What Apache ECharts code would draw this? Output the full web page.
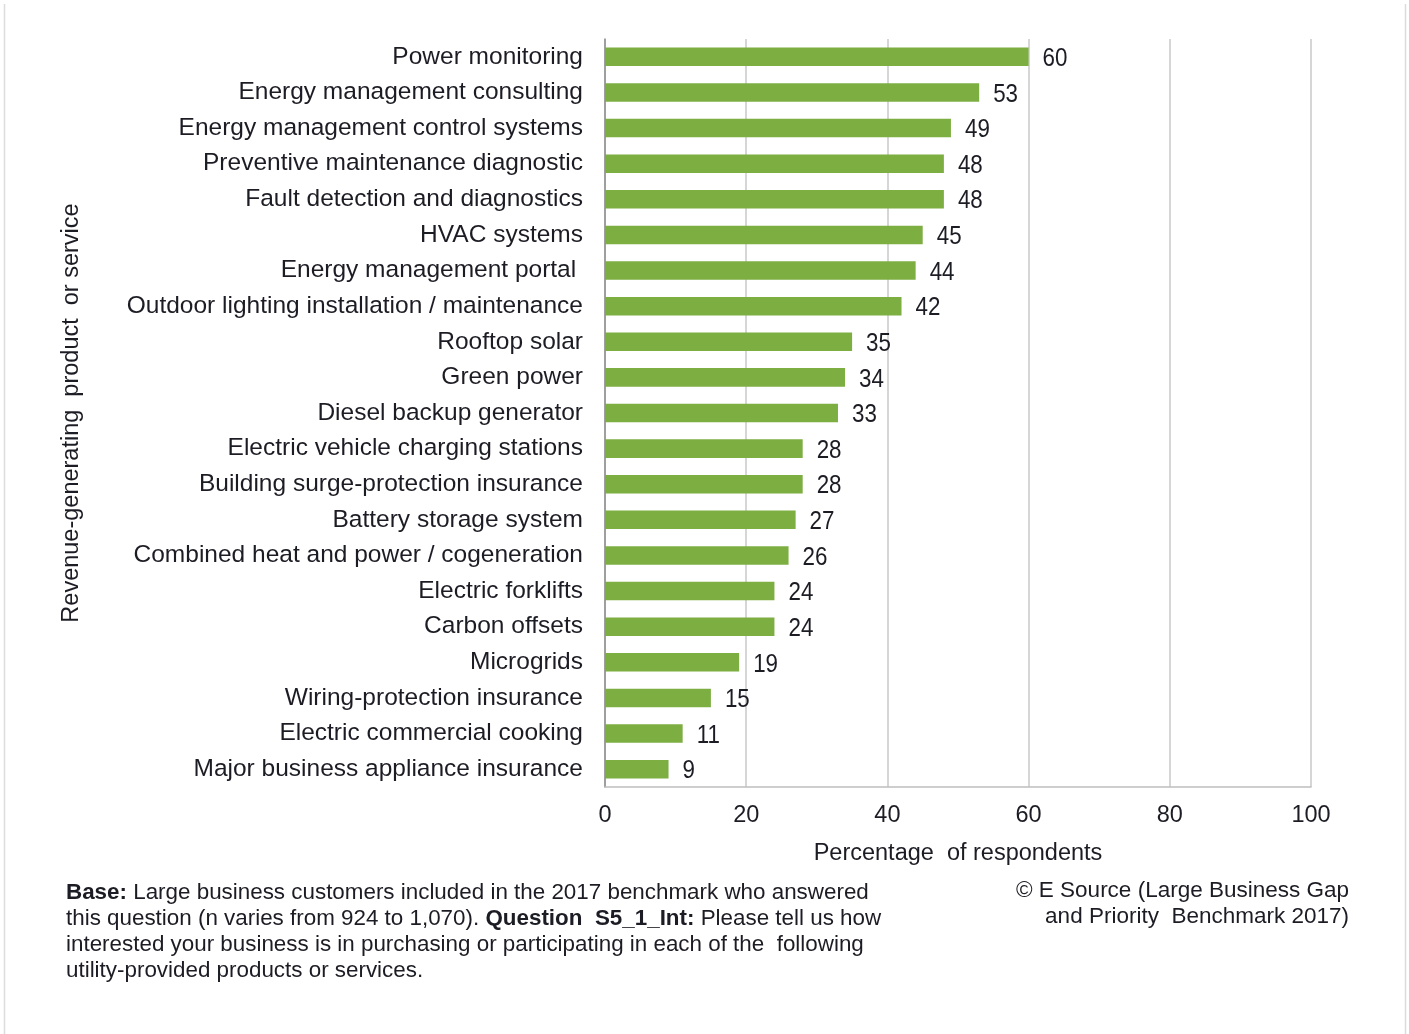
<!DOCTYPE html>
<html>
<head>
<meta charset="utf-8">
<script src="https://cdn.jsdelivr.net/npm/echarts@6/dist/echarts.min.js"></script>
<style>
  html, body { margin: 0; padding: 0; background: #fff; }
  #chart { width: 1409px; height: 1034px; }
</style>
</head>
<body>
<div id="chart"></div>
<script>
// Services, listed top to bottom
const categories = [
  'Power monitoring',
  'Energy management consulting',
  'Energy management control systems',
  'Preventive maintenance diagnostic',
  'Fault detection and diagnostics',
  'HVAC systems',
  'Energy management portal ',
  'Outdoor lighting installation / maintenance',
  'Rooftop solar',
  'Green power',
  'Diesel backup generator',
  'Electric vehicle charging stations',
  'Building surge-protection insurance',
  'Battery storage system',
  'Combined heat and power / cogeneration',
  'Electric forklifts',
  'Carbon offsets',
  'Microgrids',
  'Wiring-protection insurance',
  'Electric commercial cooking',
  'Major business appliance insurance'
];

// Percentage of respondents interested in each service
const values = [60, 53, 49, 48, 48, 45, 44, 42, 35, 34, 33, 28, 28, 27, 26, 24, 24, 19, 15, 11, 9];

const xTicks = [0, 20, 40, 60, 80, 100];

const FONT = '"Liberation Sans", Arial, Helvetica, sans-serif';
const TEXT = '#1c1c24';

const chart = echarts.init(document.getElementById('chart'), null, { renderer: 'canvas' });

// Value labels: condensed digits placed just past each bar end
function renderValueLabel(params, api) {
  const v = api.value(0);
  const idx = api.value(1);
  const p = api.coord([v, idx]);
  return {
    type: 'text',
    x: p[0] + 14,
    y: p[1] + 2,
    scaleX: 0.86,
    style: {
      text: String(v),
      font: '26px ' + FONT,
      fill: TEXT,
      align: 'left',
      verticalAlign: 'middle'
    }
  };
}

chart.setOption({
  backgroundColor: '#ffffff',
  animation: false,
  grid: { left: 605, right: 98, top: 39, bottom: 247, containLabel: false },
  xAxis: {
    type: 'value',
    min: xTicks[0],
    max: xTicks[xTicks.length - 1],
    interval: 20,
    name: 'Percentage  of respondents',
    nameLocation: 'middle',
    nameGap: 55,
    nameTextStyle: { fontFamily: FONT, fontSize: 23.5, color: TEXT },
    axisLine: { show: true, lineStyle: { color: '#bfbfbf', width: 1.5 } },
    axisTick: { show: false },
    axisLabel: { margin: 17, fontFamily: FONT, fontSize: 23.5, color: TEXT },
    splitLine: { show: true, lineStyle: { color: '#c8c8c8', width: 1.5 } }
  },
  yAxis: {
    type: 'category',
    data: categories,
    inverse: true,
    name: 'Revenue-generating  product  or service',
    nameLocation: 'middle',
    nameRotate: 90,
    nameGap: 521,
    nameTextStyle: { fontFamily: FONT, fontSize: 23.5, color: TEXT },
    axisLine: { show: true, lineStyle: { color: '#8c8c8c', width: 1.5 } },
    axisTick: { show: false },
    axisLabel: { margin: 22, fontFamily: FONT, fontSize: 24.5, color: TEXT },
    splitLine: { show: false }
  },
  series: [
    {
      type: 'bar',
      data: values,
      barCategoryGap: '48%',
      itemStyle: { color: '#7cae42' }
    },
    {
      type: 'custom',
      renderItem: renderValueLabel,
      data: values.map((v, i) => [v, i]),
      encode: { x: 0, y: 1 },
      silent: true,
      z: 5
    }
  ],
  graphic: [
    {
      type: 'line',
      shape: { x1: 4.5, y1: 4, x2: 4.5, y2: 1034 },
      style: { stroke: '#dcdcdc', lineWidth: 1.5 },
      silent: true
    },
    {
      type: 'line',
      shape: { x1: 1405.5, y1: 4, x2: 1405.5, y2: 1034 },
      style: { stroke: '#dcdcdc', lineWidth: 1.5 },
      silent: true
    },
    {
      type: 'text',
      x: 66,
      y: 880,
      style: {
        text: '{b|Base:} Large business customers included in the 2017 benchmark who answered\n' +
              'this question (n varies from 924 to 1,070). {b|Question  S5_1_Int:} Please tell us how\n' +
              'interested your business is in purchasing or participating in each of the  following\n' +
              'utility-provided products or services.',
        font: '22.4px ' + FONT,
        fill: TEXT,
        lineHeight: 26,
        rich: {
          b: { fontWeight: 'bold', fontFamily: FONT, fontSize: 22.4, fill: TEXT, lineHeight: 26 }
        }
      }
    },
    {
      type: 'text',
      x: 1349,
      y: 878,
      style: {
        text: '\u00a9 E Source (Large Business Gap\nand Priority  Benchmark 2017)',
        font: '22.5px ' + FONT,
        fill: TEXT,
        align: 'right',
        lineHeight: 26
      }
    }
  ]
});
</script>
</body>
</html>
